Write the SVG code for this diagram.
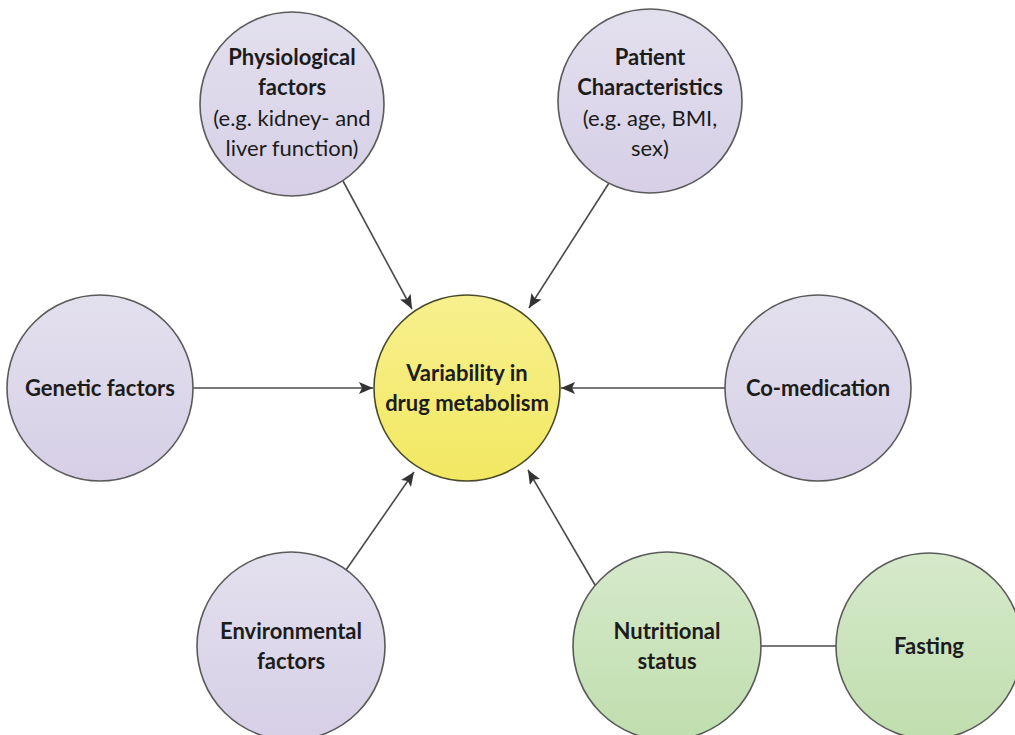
<svg xmlns="http://www.w3.org/2000/svg" width="1015" height="735" viewBox="0 0 1015 735">
  <defs>
    <linearGradient id="lavender" x1="0" y1="0" x2="0" y2="1">
      <stop offset="0" stop-color="#e3e0ee"/>
      <stop offset="1" stop-color="#d6cfe6"/>
    </linearGradient>
    <linearGradient id="yellow" x1="0" y1="0" x2="0" y2="1">
      <stop offset="0" stop-color="#f7f08e"/>
      <stop offset="1" stop-color="#f2e862"/>
    </linearGradient>
    <linearGradient id="green" x1="0" y1="0" x2="0" y2="1">
      <stop offset="0" stop-color="#d6e9cb"/>
      <stop offset="1" stop-color="#c0deae"/>
    </linearGradient>
    <marker id="arrow" viewBox="0 0 14 12" refX="14" refY="6" markerWidth="14" markerHeight="12" markerUnits="userSpaceOnUse" orient="auto">
      <path d="M0,0 L14,6 L0,12 L3,6 Z" fill="#333"/>
    </marker>
  </defs>
  <style>
    .node { stroke: #5a5a5a; stroke-width: 1.6; }
    .purple { fill: url(#lavender); }
    .core { fill: url(#yellow); stroke: #4a4a2a; }
    .food { fill: url(#green); }
    .edge { stroke: #4a4a4a; stroke-width: 1.6; fill: none; }
    .arrowed { marker-end: url(#arrow); }
    text { font-family: Lato, "Open Sans", "Liberation Sans", sans-serif; font-size: 22px; fill: #1c1c1c; text-anchor: middle; }
    .b { font-weight: bold; }
  </style>

  <rect width="1015" height="735" fill="#ffffff"/>

  <!-- arrows pointing at the central node, plus the plain link to Fasting -->
  <g id="connectors">
    <line class="edge arrowed" x1="343" y1="181" x2="412" y2="309"/>
    <line class="edge arrowed" x1="609" y1="183" x2="529" y2="308"/>
    <line class="edge arrowed" x1="193" y1="388" x2="373" y2="388"/>
    <line class="edge arrowed" x1="725" y1="388" x2="561" y2="388"/>
    <line class="edge arrowed" x1="346" y1="570" x2="414" y2="472"/>
    <line class="edge arrowed" x1="595" y1="585" x2="528" y2="470"/>
    <line class="edge" x1="761" y1="646" x2="836" y2="646"/>
  </g>

  <g id="physiological">
    <circle class="node purple" cx="292" cy="104" r="92"/>
    <text class="b" x="292" y="65">Physiological</text>
    <text class="b" x="292" y="95">factors</text>
    <text x="292" y="126">(e.g. kidney- and</text>
    <text x="292" y="156">liver function)</text>
  </g>

  <g id="patient">
    <circle class="node purple" cx="650" cy="101" r="92"/>
    <text class="b" x="650" y="65">Patient</text>
    <text class="b" x="650" y="95">Characteristics</text>
    <text x="650" y="126">(e.g. age, BMI,</text>
    <text x="650" y="156">sex)</text>
  </g>

  <g id="genetic">
    <circle class="node purple" cx="100" cy="388" r="93"/>
    <text class="b" x="100" y="396">Genetic factors</text>
  </g>

  <g id="variability">
    <circle class="node core" cx="467" cy="388" r="93"/>
    <text class="b" x="467" y="381">Variability in</text>
    <text class="b" x="467" y="411">drug metabolism</text>
  </g>

  <g id="comedication">
    <circle class="node purple" cx="818" cy="388" r="93"/>
    <text class="b" x="818" y="396">Co-medication</text>
  </g>

  <g id="environmental">
    <circle class="node purple" cx="291" cy="646" r="94"/>
    <text class="b" x="291" y="639">Environmental</text>
    <text class="b" x="291" y="669">factors</text>
  </g>

  <g id="nutritional">
    <circle class="node food" cx="667" cy="646" r="94"/>
    <text class="b" x="667" y="639">Nutritional</text>
    <text class="b" x="667" y="669">status</text>
  </g>

  <g id="fasting">
    <circle class="node food" cx="929" cy="646" r="93"/>
    <text class="b" x="929" y="654">Fasting</text>
  </g>
</svg>
